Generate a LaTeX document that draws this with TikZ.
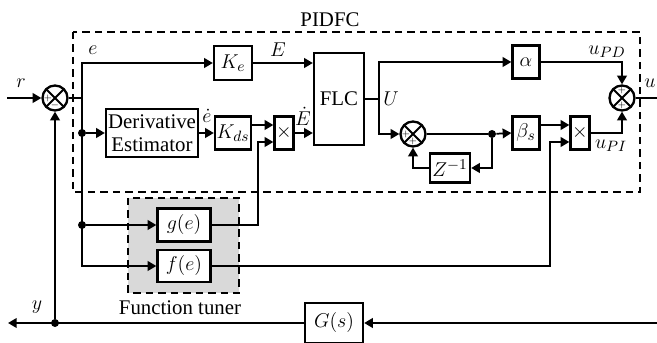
\documentclass[tikz,border=0pt]{standalone}
\usepackage{fontspec}
\setmainfont{Liberation Serif}
\usetikzlibrary{arrows.meta,calc}
\begin{document}
\begin{tikzpicture}[x=0.6pt,y=-0.6pt,
  font=\fontsize{12.5}{13.5}\selectfont,
  blk/.style={draw, line width=1.4pt, inner sep=1pt, align=center},
  ln/.style={line width=1.05pt},
  arr/.style={ln, -{Triangle[length=5.2pt,width=5.8pt]}},
  sumj/.style={circle, draw, line width=1.4pt, minimum size=15pt, inner sep=0pt,
    path picture={\draw[line width=1.1pt] (path picture bounding box.north west) -- (path picture bounding box.south east)
      (path picture bounding box.north east) -- (path picture bounding box.south west);}},
  sgn/.style={font=\fontsize{5}{5}\selectfont, inner sep=0pt},
  dotn/.style={circle, fill, inner sep=0pt, minimum size=4.8pt},
  frame/.style={line width=1pt, dash pattern=on 4.5pt off 3pt}]

\useasboundingbox (0,0) rectangle (657,343);
\clip (0,0) rectangle (657,343);

% frames
\draw[frame] (73,32) rectangle (640,192);
\fill[gray!30] (128,198) rectangle (239,293);
\draw[frame] (128,198) rectangle (239,293);
\node (pidfc) at (330,20) {PIDFC};
\node (ftl) at (180,308) {Function tuner};

% blocks
\node[blk, minimum width=22.8pt, minimum height=20.4pt] (ke) at (233,63) {$K_e$};
\node[blk, minimum width=30pt, minimum height=55.2pt] (flc) at (339,99) {FLC};
\node[blk, minimum width=55.2pt, minimum height=28.8pt] (de) at (152,133) {Derivative\\Estimator};
\node[blk, minimum width=21.6pt, minimum height=19.8pt, inner sep=0.5pt] (kds) at (233,133) {$K_{ds}$};
\node[blk, minimum width=11.4pt, minimum height=19.8pt, inner sep=0pt] (m1) at (284,133) {$\times$};
\node[blk, minimum width=16.2pt, minimum height=19.8pt] (al) at (526,62) {$\alpha$};
\node[blk, minimum width=16.2pt, minimum height=19.8pt] (be) at (526,133) {$\beta_s$};
\node[blk, minimum width=11.4pt, minimum height=19.8pt, inner sep=0pt] (m2) at (580,133) {$\times$};
\node[blk, minimum width=24pt, minimum height=17.4pt] (z) at (450,168) {$Z^{-1}$};
\node[blk, fill=white, minimum width=31.8pt, minimum height=19.8pt] (ge) at (184,225) {$g(e)$};
\node[blk, fill=white, minimum width=31.8pt, minimum height=19.2pt] (fe) at (184,266) {$f(e)$};
\node[blk, minimum width=34.8pt, minimum height=24pt] (G) at (334,323) {$G(s)$};

% junctions
\node[sumj] (s1) at (55,98) {};
\node[sumj] (s2) at (413,134) {};
\node[sumj] (s3) at (622,98) {};
\node[sgn] at ([xshift=-4.3pt]s1.center) {$+$};
\node[sgn] at ([yshift=-4.3pt]s1.center) {$-$};
\node[sgn] at ([xshift=-4.3pt]s2.center) {$+$};
\node[sgn] at ([yshift=-4.3pt]s2.center) {$+$};
\node[sgn] at ([yshift=4.3pt]s3.center) {$+$};
\node[sgn] at ([yshift=-4.3pt]s3.center) {$+$};

% coordinates and dots
\coordinate (rin) at (7,98);
\coordinate (eb) at (82,98);
\node[dotn] (d1) at (82,133) {};
\node[dotn] (d2) at (82,225) {};
\coordinate (uj) at (379,99);
\node[dotn] (d3) at (492,134) {};
\coordinate (gc) at (258,225);
\coordinate (fc) at (550,266);
\coordinate (uout) at (657,98);
\coordinate (gin) at (657,323);
\coordinate (yout) at (8,323);
\node[dotn] (d4) at (55,323) {};

% connectors
\draw[arr] (rin) -- (s1);
\draw[ln] (s1) -- (eb);
\draw[arr] (eb) |- (ke.west);
\draw[arr] (eb) |- (fe.west);
\draw[arr] (d1) -- (de.west);
\draw[arr] (d2) -- (ge.west);
\draw[arr] (ke.east) -- (ke.east -| flc.west);
\draw[arr] (de) -- (kds);
\draw[arr] ([yshift=4.8pt]kds.east) -- ([yshift=4.8pt]m1.west);
\draw[arr] (ge.east) -- (gc) |- ([yshift=-5.4pt]m1.west);
\draw[arr] (m1) -- (m1 -| flc.west);
\draw[ln] (flc.east |- uj) -- (uj);
\draw[arr] (uj) |- (al.west);
\draw[arr] (uj) |- (s2.west);
\draw[ln] (s2) -- (d3);
\draw[arr] (d3) -- (be.west);
\draw[arr] (d3) |- (z.east);
\draw[arr] (z.west) -| (s2.south);
\draw[arr] ([yshift=4.8pt]be.east) -- ([yshift=4.8pt]m2.west);
\draw[arr] (fe.east) -- (fc) |- ([yshift=-5.4pt]m2.west);
\draw[arr] (m2.east) -| (s3.south);
\draw[arr] (al.east) -| (s3.north);
\draw[ln] (s3) -- (uout);
\draw[arr] (gin) -- (G.east);
\draw[arr] (G.west) -- (yout);
\draw[arr] (d4) -- (s1.south);

% labels
\node at (21,83) {$r$};
\node at (93,50) {$e$};
\node at (278,50) {$E$};
\node at (207,116) {$\dot e$};
\node at (303,116) {$\dot E$};
\node at (391,99) {$U$};
\node at (607,52) {$u_{PD}$};
\node at (611,146) {$u_{PI}$};
\node at (650,83) {$u$};
\node at (37,307) {$y$};
\end{tikzpicture}
\end{document}
